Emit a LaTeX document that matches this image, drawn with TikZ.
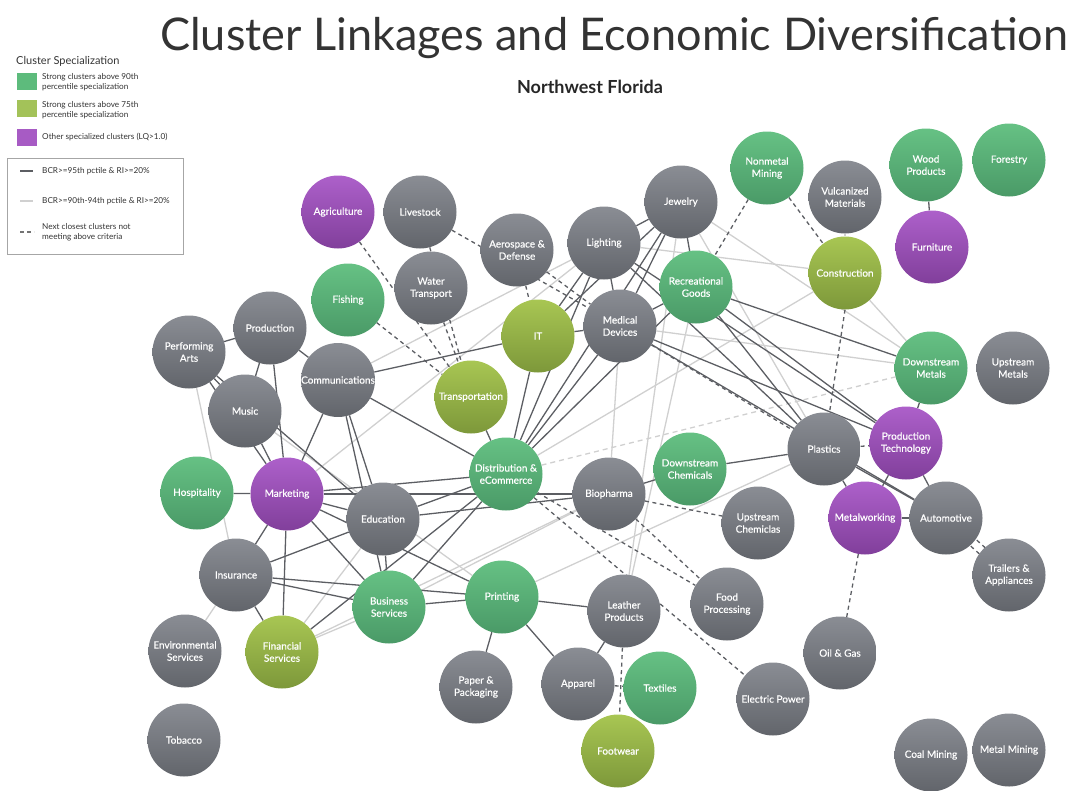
\documentclass[tikz,border=0pt]{standalone}
\usepackage{fontspec}
\setmainfont{Lato}
\newfontfamily\nodefont{Lato}[FakeBold=0.5]
\usetikzlibrary{backgrounds}
\definecolor{grayT}{HTML}{8A8D94}
\definecolor{grayB}{HTML}{62656B}
\definecolor{greenT}{HTML}{66C184}
\definecolor{greenB}{HTML}{4A9A67}
\definecolor{oliveT}{HTML}{A8C653}
\definecolor{oliveB}{HTML}{7D983A}
\definecolor{purpT}{HTML}{AD60CA}
\definecolor{purpB}{HTML}{813F9B}
\definecolor{darkline}{HTML}{5C5E63}
\definecolor{lightline}{HTML}{D0D0D0}
\definecolor{legtext}{HTML}{333333}
\definecolor{legG}{HTML}{5DBB7C}
\definecolor{legO}{HTML}{A3C259}
\definecolor{legP}{HTML}{A75BC4}
\begin{document}
\begin{tikzpicture}[x=1pt,y=-1pt,
  cl/.style={circle, minimum size=73pt, inner sep=0pt, draw=none, text=white,
    font=\nodefont\fontsize{10}{12.2}\selectfont, align=center},
  cgray/.style={cl, top color=grayT, bottom color=grayB},
  cgreen/.style={cl, top color=greenT, bottom color=greenB},
  colive/.style={cl, top color=oliveT, bottom color=oliveB},
  cpurple/.style={cl, top color=purpT, bottom color=purpB},
  dk/.style={draw=darkline, line width=1.3pt},
  lt/.style={draw=lightline, line width=1.3pt},
  dsh/.style={draw=darkline, line width=1.3pt, dash pattern=on 4pt off 3.5pt},
  ldsh/.style={draw=lightline, line width=1.3pt, dash pattern=on 5pt off 4pt},
  legtxt/.style={anchor=west, inner sep=0pt, text=legtext, font=\fontsize{8.2}{10.5}\selectfont, align=left},
]
\useasboundingbox (0,0) rectangle (1073,790);

% title
\node[anchor=base west, inner sep=0pt, text=black!80] (title) at (160,50)
  {\resizebox{908pt}{!}{\fontsize{50}{50}\selectfont Cluster Linkages and Economic Diversification}};
\node[inner sep=0pt, font=\fontsize{18}{20}\selectfont\bfseries, text=black!85] (sub) at (590,87) {Northwest Florida};

% legend
\node[anchor=west, inner sep=0pt, text=legtext, font=\fontsize{11}{13}\selectfont] (legtitle) at (16,61) {Cluster Specialization};
\fill[legG] (17,73) rectangle (37,90);
\node[legtxt] (lg1) at (42,82) {Strong clusters above 90th\\percentile specialization};
\fill[legO] (17,100) rectangle (37,117);
\node[legtxt] (lg2) at (42,110) {Strong clusters above 75th\\percentile specialization};
\fill[legP] (17,129) rectangle (37,146);
\node[legtxt] (lg3) at (42,137) {Other specialized clusters (LQ>1.0)};
\draw[black!35, line width=0.8pt] (7,158) rectangle (183,254);
\draw[darkline, line width=2pt] (20,171) -- (33,171);
\node[legtxt] (lg4) at (42,171) {BCR>=95th pctile \& RI>=20\%};
\draw[lightline, line width=2pt] (20,201) -- (33,201);
\node[legtxt] (lg5) at (42,201) {BCR>=90th-94th pctile \& RI>=20\%};
\draw[black!55, line width=1.5pt, dash pattern=on 4pt off 3pt] (20,232) -- (34,232);
\node[legtxt] (lg6) at (42,232) {Next closest clusters not\\meeting above criteria};

% nodes
\node[cpurple] (agri) at (338,212) {Agriculture};
\node[cgray] (live) at (420,212) {Livestock};
\node[cgray] (aero) at (517,250) {Aerospace \&\\Defense};
\node[cgray] (light) at (604,243) {Lighting};
\node[cgray] (jew) at (681,202) {Jewelry};
\node[cgreen] (nonmet) at (767,168) {Nonmetal\\Mining};
\node[cgray] (vulc) at (845,197) {Vulcanized\\Materials};
\node[cgreen] (wood) at (926,165) {Wood\\Products};
\node[cgreen] (forest) at (1009,160) {Forestry};
\node[cpurple] (furn) at (932,247) {Furniture};
\node[colive] (constr) at (845,273) {Construction};
\node[cgreen] (recr) at (696,287) {Recreational\\Goods};
\node[cgray] (med) at (620,326) {Medical\\Devices};
\node[colive] (it) at (538,336) {IT};
\node[cgreen] (fish) at (348,300) {Fishing};
\node[cgray] (water) at (431,288) {Water\\Transport};
\node[cgray] (prod) at (270,328) {Production};
\node[cgray] (perf) at (189,352) {Performing\\Arts};
\node[cgray] (comm) at (338,380) {Communications};
\node[cgray] (music) at (245,411) {Music};
\node[colive] (trans) at (471,397) {Transportation};
\node[cgreen] (dmet) at (931,368) {Downstream\\Metals};
\node[cgray] (umet) at (1013,368) {Upstream\\Metals};
\node[cgray] (plast) at (824,449) {Plastics};
\node[cpurple] (ptech) at (906,443) {Production\\Technology};
\node[cgreen] (dist) at (506,474) {Distribution \&\\eCommerce};
\node[cgray] (bio) at (609,494) {Biopharma};
\node[cgreen] (dchem) at (690,469) {Downstream\\Chemicals};
\node[cgreen] (hosp) at (197,493) {Hospitality};
\node[cpurple] (mkt) at (287,494) {Marketing};
\node[cgray] (edu) at (383,519) {Education};
\node[cgray] (uchem) at (758,523) {Upstream\\Chemiclas};
\node[cpurple] (metw) at (865,518) {Metalworking};
\node[cgray] (auto) at (946,518) {Automotive};
\node[cgray] (trail) at (1009,575) {Trailers \&\\Appliances};
\node[cgray] (ins) at (236,575) {Insurance};
\node[cgreen] (bus) at (389,607) {Business\\Services};
\node[cgreen] (print) at (502,597) {Printing};
\node[cgray] (leath) at (624,611) {Leather\\Products};
\node[cgray] (food) at (727,604) {Food\\Processing};
\node[cgray] (env) at (185,651) {Environmental\\Services};
\node[colive] (fin) at (282,652) {Financial\\Services};
\node[cgray] (oil) at (840,653) {Oil \& Gas};
\node[cgray] (paper) at (476,687) {Paper \&\\Packaging};
\node[cgray] (app) at (578,684) {Apparel};
\node[cgreen] (text) at (660,688) {Textiles};
\node[cgray] (elec) at (773,699) {Electric Power};
\node[colive] (foot) at (618,751) {Footwear};
\node[cgray] (tob) at (184,740) {Tobacco};
\node[cgray] (coal) at (931,755) {Coal Mining};
\node[cgray] (metm) at (1009,750) {Metal Mining};

\begin{scope}[on background layer]
% light links
\foreach \a/\b in {perf/ins, music/print, comm/light, mkt/light, fin/edu, fin/bus, fin/bio,
  bus/bio, ins/env, print/plast, dist/constr, light/constr, jew/dmet, jew/plast, med/dmet,
  constr/dmet, vulc/constr, med/bio, jew/leath, recr/leath}
  \draw[lt] (\a) -- (\b);
\draw[ldsh] (dist) -- (dmet);
% dark links
\foreach \a/\b in {perf/prod, perf/music, perf/mkt, perf/edu,
  prod/music, prod/mkt, prod/comm,
  comm/mkt, comm/edu, comm/bus, comm/it, comm/dist,
  music/mkt, hosp/mkt,
  mkt/dist, mkt/edu, mkt/bio, mkt/print, mkt/bus, mkt/fin, mkt/ins,
  ins/edu, ins/bus, ins/print, ins/fin,
  edu/bus, edu/dist, edu/bio,
  bus/dist, fin/dist, bus/print,
  print/leath, print/paper, print/app, leath/app,
  trans/dist, it/dist, light/dist, med/dist, jew/dist, recr/dist,
  light/it, jew/it, it/med,
  light/jew, light/med, jew/recr, med/recr, jew/med,
  light/plast, light/ptech, recr/plast, recr/ptech, recr/dmet, med/ptech, med/auto,
  dchem/plast, dchem/bio,
  plast/metw, plast/auto, ptech/metw, ptech/auto, dmet/ptech, metw/auto,
  wood/furn}
  \draw[dk] (\a) -- (\b);
% dashed links
\foreach \a/\b in {agri/trans, live/trans, water/trans, fish/trans, live/med, aero/med, aero/it,
  nonmet/recr, nonmet/constr, med/plast, plast/ptech, bio/uchem, bio/food,
  dist/food, dist/elec, leath/foot, app/text, metw/oil}
  \draw[dsh] (\a) -- (\b);
\draw[dsh] (constr.south) -- (plast);
\draw[dsh] ([shift={(-3pt,-3pt)}]auto.center) -- ([shift={(-3pt,-3pt)}]trail.center);
\draw[dsh] ([shift={(3pt,3pt)}]auto.center) -- ([shift={(3pt,3pt)}]trail.center);
\end{scope}
\end{tikzpicture}
\end{document}
